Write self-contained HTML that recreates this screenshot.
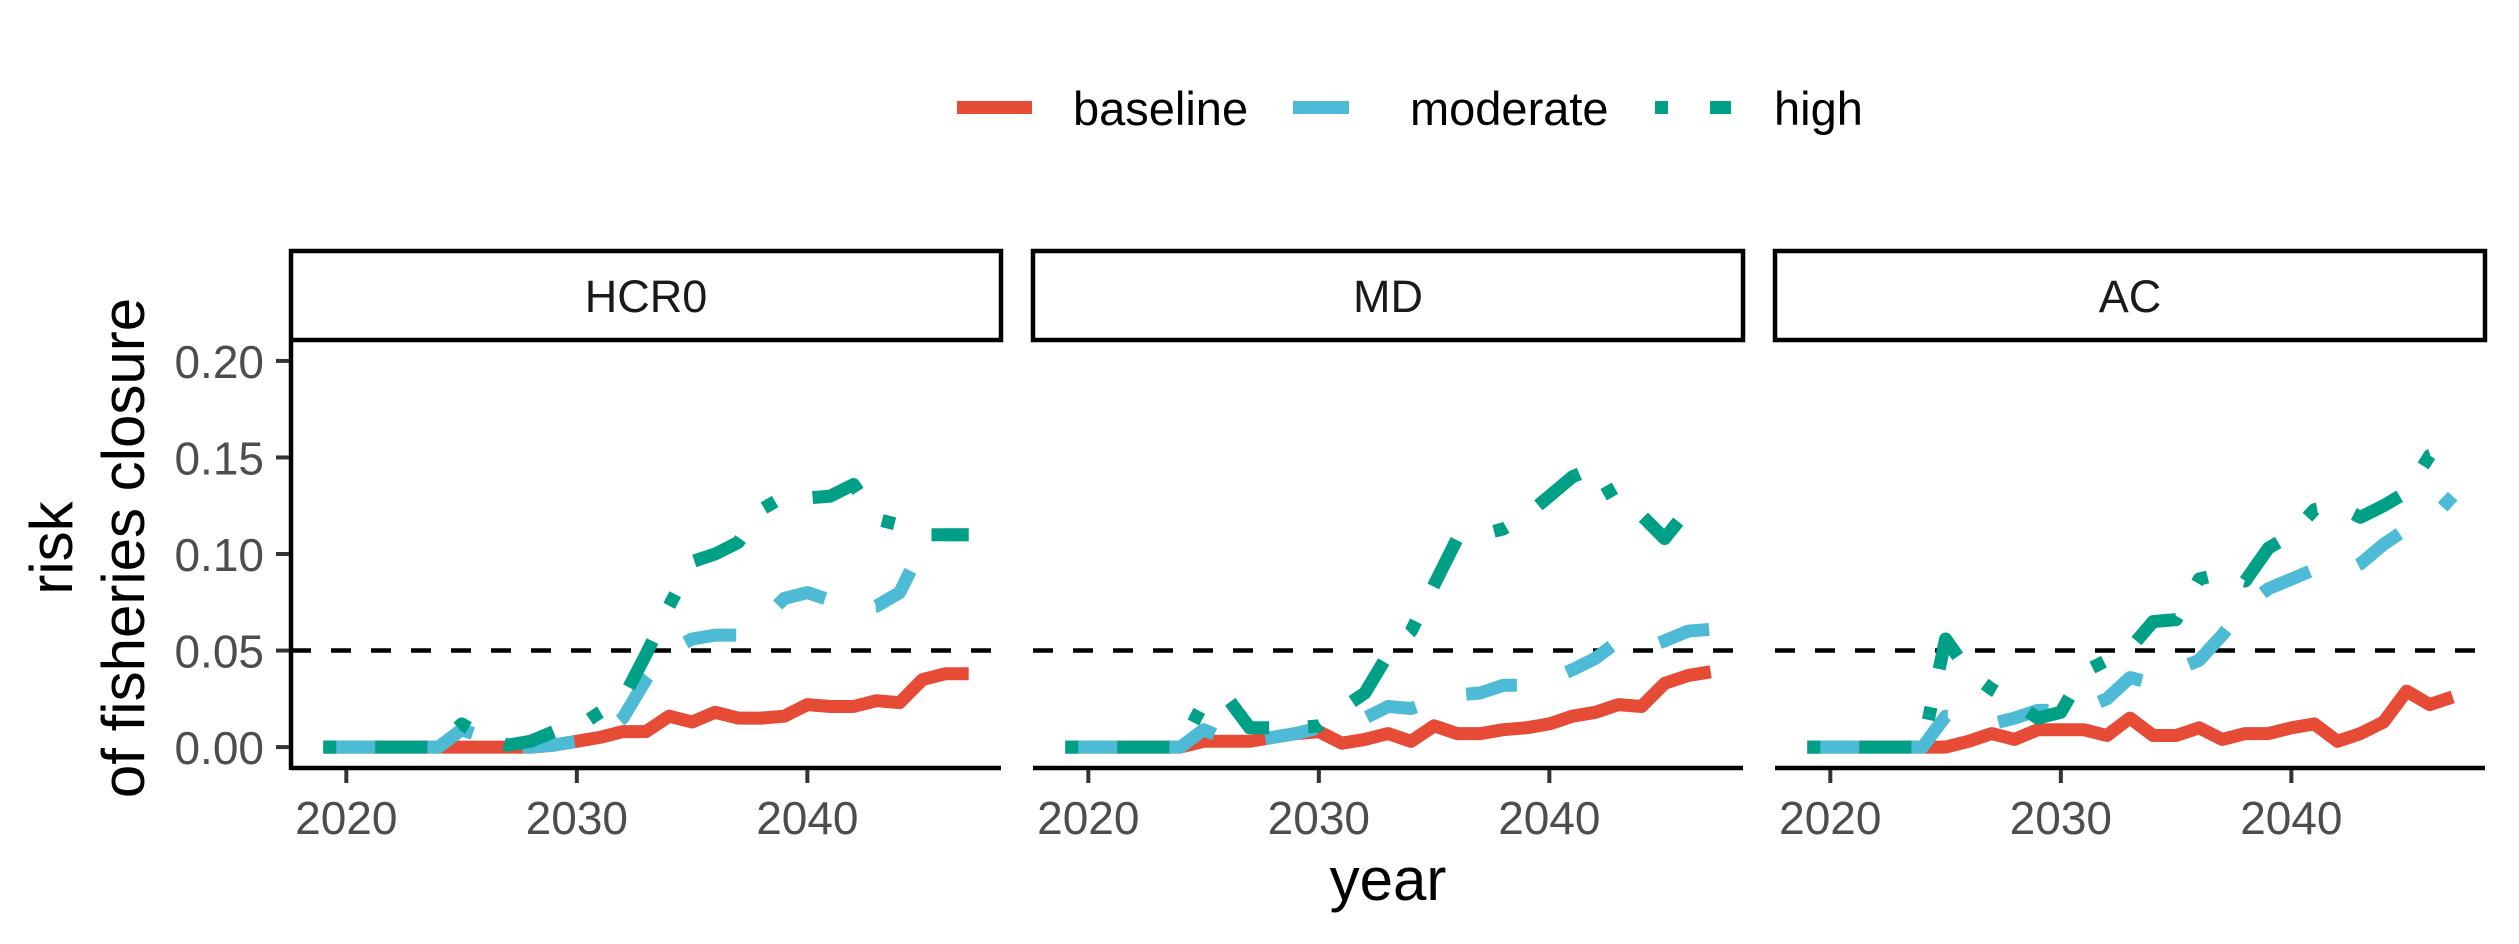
<!DOCTYPE html>
<html><head><meta charset="utf-8">
<style>
html,body{margin:0;padding:0;background:#fff;}
svg{display:block;font-family:"Liberation Sans",Arial,sans-serif;}
</style></head>
<body>
<svg id="chart" width="2519" height="944" viewBox="0 0 2519 944" xmlns="http://www.w3.org/2000/svg">
  <rect width="2519" height="944" fill="#fff"/>
  <g>
    <rect x="957" y="101" width="75" height="13" fill="#E64B35"/>
    <text x="1073" y="125" font-size="47" fill="#000">baseline</text>
    <rect x="1293" y="101" width="56" height="13" fill="#4DBBD5"/>
    <text x="1410" y="125" font-size="47" fill="#000">moderate</text>
    <rect x="1655" y="101" width="13" height="13" fill="#00A087"/>
    <rect x="1710" y="101" width="21" height="13" fill="#00A087"/>
    <text x="1774" y="125" font-size="47" fill="#000">high</text>
  </g>
  <g transform="translate(0,548) rotate(-90)">
    <text x="0" y="72" text-anchor="middle" font-size="60" fill="#000">risk</text>
    <text x="0" y="144" text-anchor="middle" font-size="60" fill="#000">of fisheries closure</text>
  </g>
  <text x="1388" y="900" text-anchor="middle" font-size="60" fill="#000">year</text>
  <g id="panels"></g>
</svg>
<script>
const years = [2019,2020,2021,2022,2023,2024,2025,2026,2027,2028,2029,2030,2031,2032,2033,2034,2035,2036,2037,2038,2039,2040,2041,2042,2043,2044,2045,2046,2047];
const panelNames = ["HCR0","MD","AC"];
const xTicks = [2020,2030,2040];
const yTicks = [0,0.05,0.10,0.15,0.20];
const yTickLabels = ["0.00","0.05","0.10","0.15","0.20"];
const threshold = 0.05;

const hcr0Baseline = [0,0,0,0,0,0,0,0,0,0,0.001,0.003,0.005,0.008,0.008,0.016,0.013,0.018,0.015,0.015,0.016,0.022,0.021,0.021,0.024,0.023,0.035,0.038,0.038];
const hcr0Moderate = [0,0,0,0,0,0,0.009,0.005,0.001,0,0.001,0.003,0.005,0.015,0.035,0.050,0.056,0.058,0.058,0.065,0.077,0.080,0.076,0.072,0.073,0.080,0.104,0.110,0.110];
const hcr0High = [0,0,0,0,0,0,0.012,0.005,0.001,0.003,0.008,0.010,0.018,0.025,0.048,0.073,0.096,0.100,0.106,0.123,0.130,0.129,0.130,0.136,0.118,0.115,0.110,0.110,0.110];

const mdBaseline = [0,0,0,0,0,0,0.003,0.003,0.003,0.005,0.007,0.008,0.002,0.004,0.007,0.003,0.011,0.007,0.007,0.009,0.010,0.012,0.016,0.018,0.022,0.021,0.033,0.037,0.039];
const mdModerate = [0,0,0,0,0,0,0.009,0.004,0.003,0.005,0.007,0.010,0.012,0.015,0.021,0.020,0.024,0.027,0.028,0.032,0.032,0.035,0.040,0.046,0.055,0.051,0.055,0.060,0.061];
const mdHigh = [0,0,0,0,0,0,0.023,0.026,0.010,0.010,0.010,0.011,0.020,0.028,0.048,0.060,0.084,0.108,0.110,0.113,0.120,0.130,0.140,0.145,0.124,0.120,0.108,0.123,0.126];

const acBaseline = [0,0,0,0,0,0,0,0.003,0.007,0.004,0.009,0.009,0.009,0.006,0.015,0.006,0.006,0.010,0.004,0.007,0.007,0.010,0.012,0.003,0.007,0.013,0.029,0.022,0.026];
const acModerate = [0,0,0,0,0,0,0.016,0.016,0.012,0.015,0.019,0.019,0.020,0.025,0.036,0.033,0.040,0.045,0.058,0.073,0.082,0.087,0.092,0.089,0.095,0.105,0.113,0.117,0.130];
const acHigh = [0,0,0,0,0,0,0.056,0.039,0.030,0.023,0.015,0.018,0.039,0.045,0.051,0.065,0.066,0.087,0.090,0.086,0.103,0.110,0.123,0.125,0.119,0.125,0.132,0.151,0.155];

const panelData = [[hcr0Baseline,hcr0Moderate,hcr0High],[mdBaseline,mdModerate,mdHigh],[acBaseline,acModerate,acHigh]];
const seriesNames = ["baseline","moderate","high"];
const seriesColors = ["#E64B35","#4DBBD5","#00A087"];
const seriesDash = ["", "52 52", "13 39 52 39"];

const NS = "http://www.w3.org/2000/svg";
const panelLefts = [291,1033,1775];
const panelW = 710, panelTop = 342, panelBottom = 766;
const xMin = 2017.6, xMax = 2048.4, yMin = -0.0098, yMax = 0.2098;
function xScale(v, left){ return left + (v - xMin) / (xMax - xMin) * panelW; }
function yScale(v){ return panelBottom - (v - yMin) / (yMax - yMin) * (panelBottom - panelTop); }
function mk(tag, attrs, parent){
  const e = document.createElementNS(NS, tag);
  for (const k in attrs) e.setAttribute(k, attrs[k]);
  parent.appendChild(e);
  return e;
}
const root = document.getElementById("panels");
panelNames.forEach((name, pi) => {
  const L = panelLefts[pi];
  const g = mk("g", {}, root);
  
  
  const strip = mk("rect", {x:L, y:251, width:panelW, height:89, fill:"#fff", stroke:"#000", "stroke-width":4.5}, g);
  
  
  const st = mk("text", {x:L+panelW/2, y:312, "text-anchor":"middle", "font-size":45, fill:"#1a1a1a"}, g);
  st.textContent = name;
  
  
  const hl = mk("line", {x1:L, x2:L+panelW, y1:yScale(threshold), y2:yScale(threshold), stroke:"#000", "stroke-width":4.5, "stroke-dasharray":"20 20"}, g);
  
  
  panelData[pi].forEach((vals, si) => {
    const d = vals.map((v,i) => (i?"L":"M") + xScale(years[i], L).toFixed(1) + "," + yScale(v).toFixed(1)).join(" ");
    const p = mk("path", {d:d, fill:"none", stroke:seriesColors[si], "stroke-width":13, "stroke-linejoin":"round", "stroke-linecap":"butt"}, g);
    if (seriesDash[si]) p.setAttribute("stroke-dasharray", seriesDash[si]);
    
    
  });
  const xa = mk("line", {x1:L, x2:L+panelW, y1:panelBottom+2, y2:panelBottom+2, stroke:"#000", "stroke-width":4.5}, g);
  
  
  xTicks.forEach((t, ti) => {
    const x = xScale(t, L);
    const tk = mk("line", {x1:x, x2:x, y1:panelBottom+4, y2:panelBottom+17, stroke:"#333", "stroke-width":4}, g);
    
    
    const tl = mk("text", {x:x, y:834, "text-anchor":"middle", "font-size":46, fill:"#4d4d4d"}, g);
    tl.textContent = String(t);
    
    
  });
  if (pi === 0) {
    const ya = mk("line", {x1:L, x2:L, y1:panelTop, y2:panelBottom+4, stroke:"#000", "stroke-width":4.5}, g);
    
    
    yTicks.forEach((t, ti) => {
      const y = yScale(t);
      const tk = mk("line", {x1:L-15, x2:L-2, y1:y, y2:y, stroke:"#333", "stroke-width":4}, g);
      
      
      const tl = mk("text", {x:L-27, y:y+17, "text-anchor":"end", "font-size":46, fill:"#4d4d4d"}, g);
      tl.textContent = yTickLabels[ti];
      
      
    });
  }
});
</script>
</body></html>
